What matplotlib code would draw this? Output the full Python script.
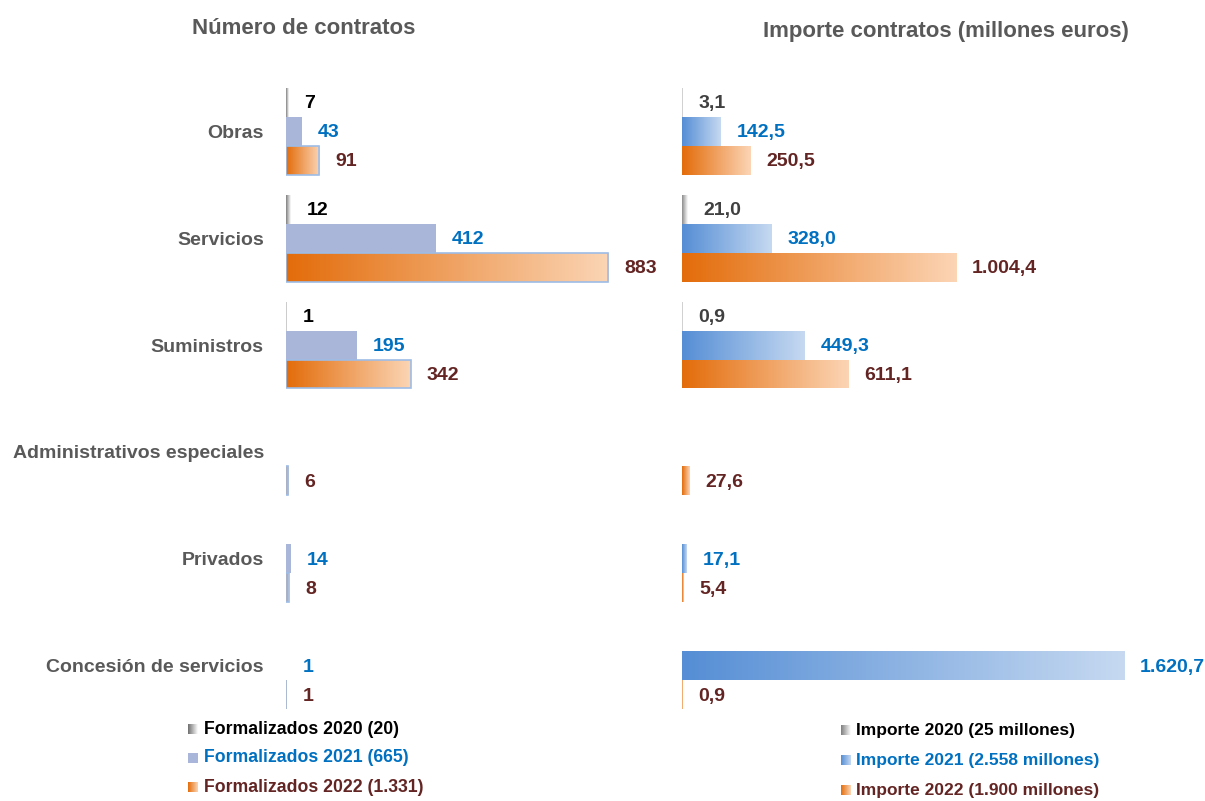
import matplotlib
matplotlib.use("Agg")
import matplotlib.pyplot as plt
import numpy as np
from matplotlib.colors import LinearSegmentedColormap

plt.rcParams['font.family'] = ['Liberation Sans', 'DejaVu Sans']
plt.rcParams['font.weight'] = 'bold'

# datos
categorias = ['Obras', 'Servicios', 'Suministros', 'Administrativos especiales',
              'Privados', 'Concesión de servicios']
num_2020 = [7, 12, 1, 0, 0, 0]
num_2021 = [43, 412, 195, 0, 14, 1]
num_2022 = [91, 883, 342, 6, 8, 1]
imp_2020 = [3.1, 21.0, 0.9, 0, 0, 0]
imp_2021 = [142.5, 328.0, 449.3, 0, 17.1, 1620.7]
imp_2022 = [250.5, 1004.4, 611.1, 27.6, 5.4, 0.9]
leyenda_num = ['Formalizados 2020 (20)', 'Formalizados 2021 (665)', 'Formalizados 2022 (1.331)']
leyenda_imp = ['Importe 2020 (25 millones)', 'Importe 2021 (2.558 millones)', 'Importe 2022 (1.900 millones)']

GRIS = '#595959'
COL_TXT = ['#000000', '#0070C0', '#632523']
W, H = 1205, 801

fig = plt.figure(figsize=(W / 100, H / 100), dpi=100)


def px_axes(x0, x1, y0, y1):
    return fig.add_axes([x0 / W, 1 - y1 / H, (x1 - x0) / W, (y1 - y0) / H])


def grad_bar(ax, rect, c0, c1):
    x0, y0 = rect.get_x(), rect.get_y()
    w, h = rect.get_width(), rect.get_height()
    if w <= 0:
        return
    cmap = LinearSegmentedColormap.from_list('g', [c0, c1])
    im = ax.imshow(np.linspace(0, 1, 256).reshape(1, -1), cmap=cmap,
                   extent=(x0, x0 + w, y0 + h, y0), aspect='auto',
                   interpolation='bilinear', zorder=2)
    im.set_clip_path(rect)


def panel(ax, series, styles, xmax, fmt, txtcols, show_labels):
    y = np.arange(len(categorias))
    bh = 0.271
    offs = [-bh, 0, bh]
    for vals, off, st, tc in zip(series, offs, styles, txtcols):
        face, edge, grad = st
        bars = ax.barh(y + off, vals, height=bh, color=face if grad is None else 'none',
                       edgecolor=edge, linewidth=1.2 if edge != 'none' else 0, zorder=3)
        for b, v in zip(bars, vals):
            if v <= 0:
                b.set_visible(False)
                continue
            if grad is not None:
                grad_bar(ax, b, grad[0], grad[1])
            ax.annotate(fmt(v), (v, b.get_y() + bh / 2), xytext=(11.5, -1),
                        textcoords='offset points', va='center', ha='left',
                        fontsize=14, fontweight='bold', color=tc)
    ax.set_xlim(0, xmax)
    ax.set_ylim(5.505, -0.477)
    for s in ax.spines.values():
        s.set_visible(False)
    ax.set_xticks([])
    ax.tick_params(axis='y', length=0, pad=16)
    if show_labels:
        ax.set_yticks(y)
        ax.set_yticklabels(categorias, fontsize=14, fontweight='bold', color=GRIS)
    else:
        ax.set_yticks([])


fmt_int = lambda v: f'{int(v)}'
fmt_dec = lambda v: f'{v:,.1f}'.replace(',', 'X').replace('.', ',').replace('X', '.')

ax1 = px_axes(286, 660, 80, 720)
panel(ax1, [num_2020, num_2021, num_2022],
      [(None, 'none', ('#7f7f7f', '#ffffff')),
       ('#A9B6DA', 'none', None),
       (None, '#9DBCE6', ('#E36C0A', '#FBD5B5'))],
      374 / 0.3647, fmt_int, COL_TXT, True)

ax2 = px_axes(682, 1190, 80, 720)
panel(ax2, [imp_2020, imp_2021, imp_2022],
      [(None, 'none', ('#8c8c8c', '#ffffff')),
       (None, 'none', ('#558ED5', '#C6D9F1')),
       (None, 'none', ('#E36C0A', '#FCD5B5'))],
      508 / 0.2728, fmt_dec, ['#404040', '#0070C0', '#632523'], False)

fig.text(304 / W, 1 - 28 / H, 'Número de contratos', ha='center', va='center',
         fontsize=16, fontweight='bold', color=GRIS)
fig.text(946 / W, 1 - 31 / H, 'Importe contratos (millones euros)', ha='center', va='center',
         fontsize=16, fontweight='bold', color=GRIS)

# leyendas
over = fig.add_axes([0, 0, 1, 1], zorder=-1)
over.set_xlim(0, W)
over.set_ylim(H, 0)
over.axis('off')
leg_num_grad = [('#6f6f6f', '#ffffff'), ('#A9B6DA', '#A9B6DA'), ('#E36C0A', '#FBD5B5')]
leg_imp_grad = [('#7f7f7f', '#ffffff'), ('#558ED5', '#C6D9F1'), ('#E36C0A', '#FCD5B5')]
for i, (txt, g) in enumerate(zip(leyenda_num, leg_num_grad)):
    yc = 729 + i * 29
    cmap = LinearSegmentedColormap.from_list('l', list(g))
    over.imshow(np.linspace(0, 1, 64).reshape(1, -1), cmap=cmap, aspect='auto',
                extent=(188, 198, yc + 5, yc - 5))
    over.text(204, yc, txt, va='center', ha='left', fontsize=12.7, fontweight='bold', color=COL_TXT[i])
for i, (txt, g) in enumerate(zip(leyenda_imp, leg_imp_grad)):
    yc = 730 + i * 30
    cmap = LinearSegmentedColormap.from_list('l', list(g))
    over.imshow(np.linspace(0, 1, 64).reshape(1, -1), cmap=cmap, aspect='auto',
                extent=(841, 851, yc + 5, yc - 5))
    over.text(856, yc, txt, va='center', ha='left', fontsize=12.5, fontweight='bold', color=COL_TXT[i])
over.set_xlim(0, W)
over.set_ylim(H, 0)

fig.savefig('out.png', dpi=100)
